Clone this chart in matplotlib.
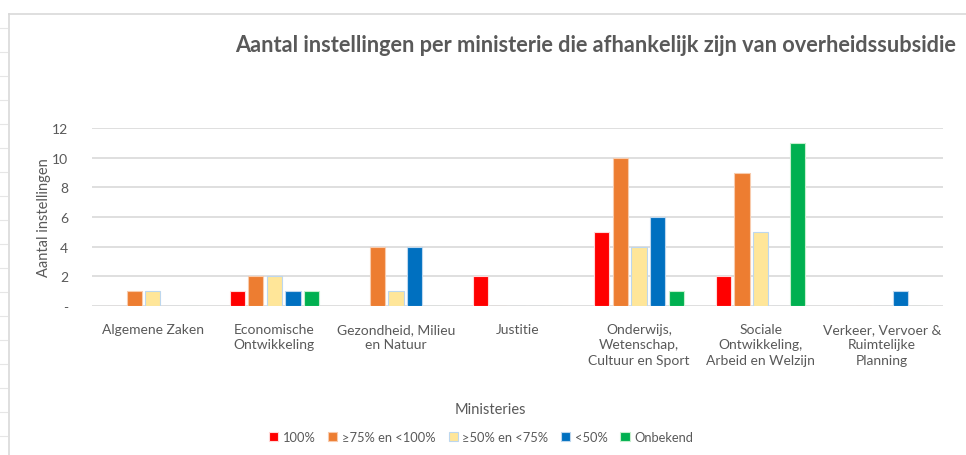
import numpy as np
import matplotlib
matplotlib.use("Agg")
import matplotlib.pyplot as plt
from matplotlib.lines import Line2D

# Categories (x axis) and series values
ministeries = [
    "Algemene Zaken",
    "Economische\nOntwikkeling",
    "Gezondheid, Milieu\nen Natuur",
    "Justitie",
    "Onderwijs,\nWetenschap,\nCultuur en Sport",
    "Sociale\nOntwikkeling,\nArbeid en Welzijn",
    "Verkeer, Vervoer &\nRuimtelijke\nPlanning",
]
series_names = ["100%", "≥75% en <100%", "≥50% en <75%", "<50%", "Onbekend"]
s_100 = [0, 1, 0, 2, 5, 2, 0]
s_75_100 = [1, 2, 4, 0, 10, 9, 0]
s_50_75 = [1, 2, 1, 0, 4, 5, 0]
s_lt50 = [0, 1, 4, 0, 6, 0, 1]
s_onbekend = [0, 1, 0, 0, 1, 11, 0]
y_ticks = [0, 2, 4, 6, 8, 10, 12]
y_tick_labels = ["-", "2", "4", "6", "8", "10", "12"]

COLORS = ["#FF0000", "#ED7D31", "#FFE699", "#0070C0", "#00B050"]
EDGES = ["#FFD9D9", "#F8CBAD", "#BDD7EE", "#BDD7EE", "#C6EFCE"]
TEXT = "#595959"
GRID = "#D9D9D9"

plt.rcParams["font.family"] = ["Lato", "DejaVu Sans"]

W, H = 966, 456
fig = plt.figure(figsize=(W / 100, H / 100), dpi=100)

# chart frame border (light grey, like the spreadsheet chart object)
fig.add_artist(Line2D([9 / W, 9 / W], [0, 1 - 15 / H], color="#D9D9D9", lw=1.2))
fig.add_artist(Line2D([9 / W, 1], [1 - 15 / H, 1 - 15 / H], color="#D9D9D9", lw=1.2))
# faint sheet gridline ticks at the far left
for yy in range(29, 456, 24):
    fig.add_artist(Line2D([0, 7 / W], [1 - yy / H, 1 - yy / H], color="#E6E6E6", lw=0.8))

ax = fig.add_axes([92 / W, 1 - 307 / H, (943 - 92) / W, (307 - 129) / H])

x = np.arange(len(ministeries))
data = [s_100, s_75_100, s_50_75, s_lt50, s_onbekend]
step = 0.153
width = 0.125
for i, vals in enumerate(data):
    offs = (i - 2) * step
    ax.bar(x + offs, vals, width, color=COLORS[i], edgecolor=EDGES[i],
           linewidth=0.8, label=series_names[i], zorder=3)

ax.set_xlim(-0.5, len(ministeries) - 0.5)
ax.set_ylim(0, 12)
ax.set_yticks(y_ticks)
ax.set_yticklabels(y_tick_labels)
ax.yaxis.grid(True, color=GRID, lw=1.2, zorder=0)
ax.set_axisbelow(True)
for side in ["top", "right", "left", "bottom"]:
    ax.spines[side].set_visible(False)
ax.tick_params(axis="y", length=0, pad=17, labelsize=10, labelcolor=TEXT)
ax.set_xticks(x)
ax.set_xticklabels(ministeries, fontsize=10, color=TEXT, linespacing=1.35)
ax.tick_params(axis="x", length=0, pad=12)

ax.set_ylabel("Aantal instellingen", fontsize=10.5, color=TEXT)
ax.yaxis.set_label_coords(-(92 - 51) / (943 - 92), 0.5)

fig.text(596 / W, 1 - 45 / H,
         "Aantal instellingen per ministerie die afhankelijk zijn van overheidssubsidie",
         ha="center", va="center", fontsize=15.7, fontweight="bold", color=TEXT)
fig.text(490 / W, 1 - 410 / H, "Ministeries", ha="center", va="center",
         fontsize=10.5, color=TEXT)

leg = fig.legend(loc="center", bbox_to_anchor=(481 / W, 1 - 438 / H), ncol=5,
                 frameon=False, fontsize=9.3, handlelength=0.7, handleheight=0.7,
                 handletextpad=0.35, columnspacing=1.0)
for t in leg.get_texts():
    t.set_color(TEXT)

fig.savefig("out.png", dpi=100, facecolor="white")
